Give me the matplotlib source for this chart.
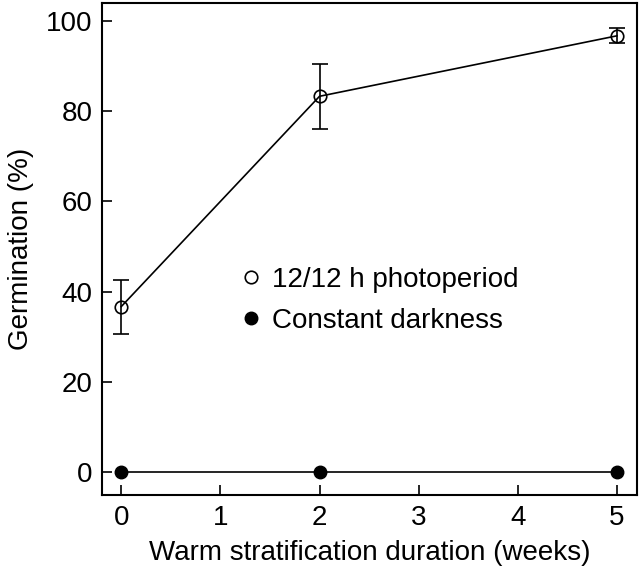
import matplotlib
matplotlib.use("Agg")
import matplotlib.pyplot as plt
from matplotlib.lines import Line2D

weeks = [0, 2, 5]
photoperiod = [36.7, 83.3, 96.7]
photoperiod_err = [6.0, 7.2, 1.7]
darkness = [0, 0, 0]
xticks = [0, 1, 2, 3, 4, 5]
yticks = [0, 20, 40, 60, 80, 100]

plt.rcParams['font.family'] = ['Liberation Sans', 'DejaVu Sans']
fig = plt.figure(figsize=(6.4, 5.74), dpi=100)
ax = fig.add_axes([0.16, 0.138, 0.835, 0.857])

ax.errorbar(weeks, photoperiod, yerr=photoperiod_err, color='black', lw=1.2,
            marker='o', ms=9, mfc='none', mec='black', mew=1.2,
            capsize=6, capthick=1.2, elinewidth=1.2)
ax.plot(weeks, darkness, color='black', lw=1.2, marker='o', ms=9, mfc='black',
        mec='black', clip_on=False, zorder=5)

ax.set_xlim(-0.19, 5.2)
ax.set_ylim(-5, 104)
ax.set_xticks(xticks)
ax.set_yticks(yticks)
ax.tick_params(direction='in', length=7, width=1.2, labelsize=20, pad=7)
for s in ax.spines.values():
    s.set_linewidth(1.5)
ax.set_xlabel('Warm stratification duration (weeks)', fontsize=20, labelpad=7)
ax.set_ylabel('Germination (%)', fontsize=20, labelpad=9)

h = [Line2D([], [], ls='none', marker='o', ms=9, mfc='white', mec='black', mew=1.2),
     Line2D([], [], ls='none', marker='o', ms=9, mfc='black', mec='black')]
ax.legend(h, ['12/12 h photoperiod', 'Constant darkness'], loc='center left',
          bbox_to_anchor=(0.2, 0.395), frameon=False, fontsize=20,
          handletextpad=0.15, handlelength=1.2, labelspacing=0.55)

fig.savefig('out.png', dpi=100)
